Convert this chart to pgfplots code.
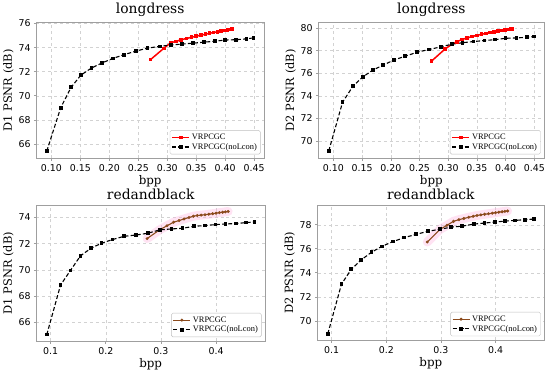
\documentclass[border=0pt]{standalone}
\usepackage{fontspec}
\setmainfont{DejaVu Serif}
\setsansfont{DejaVu Sans}
\newfontfamily\legfont{Liberation Serif}
\usepackage{pgfplots}
\usepackage{pgfplotstable}
\pgfplotsset{compat=1.18}

% longdress
\pgfplotstableread{
x      d1     d2
0.092  65.40  69.12
0.116  69.00  73.43
0.134  70.70  74.84
0.151  71.72  75.66
0.169  72.30  76.28
0.187  72.72  76.72
0.206  73.10  77.18
0.225  73.41  77.50
0.246  73.71  77.86
0.266  73.96  78.09
0.287  74.10  78.33
0.306  74.22  78.56
0.325  74.29  78.70
0.344  74.37  78.80
0.363  74.45  78.89
0.382  74.53  78.97
0.400  74.63  79.09
0.419  74.66  79.12
0.437  74.73  79.18
0.449  74.81  79.24
}\LDnolcon

\pgfplotstableread{
x      d1     d2
0.271  73.00  77.07
0.294  73.94  78.12
0.306  74.40  78.55
0.315  74.52  78.78
0.324  74.65  78.98
0.333  74.76  79.12
0.342  74.86  79.25
0.350  74.95  79.35
0.358  75.03  79.44
0.366  75.11  79.52
0.373  75.19  79.59
0.380  75.26  79.66
0.387  75.32  79.72
0.393  75.38  79.77
0.399  75.43  79.82
0.404  75.47  79.86
0.409  75.51  79.89
0.412  75.54  79.92
}\LDvrp

% redandblack
\pgfplotstableread{
x      d1     d2
0.093  65.08  68.92
0.118  68.85  73.05
0.136  69.96  74.29
0.154  71.06  75.07
0.173  71.64  75.71
0.192  72.02  76.20
0.212  72.30  76.59
0.233  72.55  76.93
0.255  72.65  77.20
0.276  72.78  77.45
0.298  73.04  77.62
0.319  73.11  77.80
0.339  73.16  77.88
0.360  73.31  78.05
0.380  73.37  78.14
0.399  73.44  78.22
0.417  73.49  78.30
0.436  73.52  78.36
0.454  73.59  78.42
0.470  73.64  78.47
}\RBnolcon

\pgfplotstableread{
x      d1     d2
0.275  72.38  76.56
0.298  73.05  77.60
0.311  73.35  77.95
0.323  73.62  78.28
0.333  73.75  78.42
0.342  73.87  78.52
0.351  73.98  78.62
0.359  74.08  78.70
0.366  74.13  78.77
0.373  74.16  78.82
0.380  74.19  78.87
0.387  74.23  78.91
0.394  74.27  78.96
0.400  74.31  79.00
0.406  74.35  79.04
0.412  74.38  79.08
0.417  74.41  79.11
0.422  74.44  79.14
}\RBvrp

\definecolor{brn}{HTML}{8B4A1C}
\definecolor{glow}{HTML}{FFB0DE}

\pgfplotsset{
  panel/.style={
    scale only axis,
    grid=major,
    grid style={dashed, gray!35, line width=0.4bp},
    axis line style={gray!75, line width=0.8bp},
    tick style={gray!75, line width=0.6bp},
    tick align=outside,
    major tick length=2.5bp,
    xtick pos=bottom, ytick pos=left,
    tick label style={font=\sffamily\fontsize{9.5}{10}\selectfont},
    /pgf/number format/assume math mode=true,
    title style={font=\fontsize{14}{14}\selectfont, yshift=-4bp},
    xlabel style={font=\fontsize{12}{12}\selectfont, yshift=3bp},
    ylabel style={font=\fontsize{11.5}{12}\selectfont, yshift=-2bp},
    xlabel={bpp},
    legend style={at={(0.985,0.03)}, anchor=south east,
      font=\legfont\fontsize{8.5}{9}\selectfont,
      draw=gray!50, rounded corners=1.5bp, row sep=-1.5bp,
      inner sep=1.5bp},
    legend cell align=left,
    legend image code/.code={
      \draw[mark repeat=2,mark phase=2,#1]
        plot coordinates {(0cm,0cm) (0.3cm,0cm) (0.6cm,0cm)};},
  },
  nolcon/.style={black, dash pattern=on 4bp off 2.2bp, line width=1.1bp, mark=square*, mark size=1.3bp, mark options={solid}},
  vrpred/.style={red, solid, line width=1.5bp, mark=square*, mark size=1.1bp},
  vrpbrn/.style={brn, solid, line width=1.1bp, mark=*, mark size=0.9bp},
  glowline/.style={glow, line width=9bp, opacity=0.35, forget plot, line cap=round},
}

\begin{document}
\begin{tikzpicture}
\path (0bp,0bp) rectangle (550bp,362bp);

% ---- panel 1
\begin{axis}[panel, at={(33bp,210bp)}, anchor=south west, width=229bp, height=137bp,
  title={longdress}, ylabel={D1 PSNR (dB)},
  xmin=0.0742, xmax=0.4669, ymin=64.79, ymax=76.10,
  xtick={0.10,0.15,...,0.451}, ytick={66,68,...,76},
  xticklabel style={/pgf/number format/.cd, fixed, fixed zerofill, precision=2}]
\addplot[vrpred] table[x=x,y=d1] {\LDvrp};
\addlegendentry{VRPCGC}
\addplot[nolcon] table[x=x,y=d1] {\LDnolcon};
\addlegendentry{VRPCGC(noLcon)}
\end{axis}

% ---- panel 2
\begin{axis}[panel, at={(317bp,210bp)}, anchor=south west, width=227bp, height=137bp,
  title={longdress}, ylabel={D2 PSNR (dB)},
  xmin=0.0742, xmax=0.4669, ymin=68.45, ymax=80.50,
  xtick={0.10,0.15,...,0.451}, ytick={70,72,...,80},
  xticklabel style={/pgf/number format/.cd, fixed, fixed zerofill, precision=2}]
\addplot[vrpred] table[x=x,y=d2] {\LDvrp};
\addlegendentry{VRPCGC}
\addplot[nolcon] table[x=x,y=d2] {\LDnolcon};
\addlegendentry{VRPCGC(noLcon)}
\end{axis}

% ---- panel 3
\begin{axis}[panel, at={(33bp,26bp)}, anchor=south west, width=230bp, height=137bp,
  title={redandblack}, ylabel={D1 PSNR (dB)},
  xmin=0.0743, xmax=0.4887, ymin=64.58, ymax=74.92,
  xtick={0.1,0.2,0.3,0.4}, ytick={66,68,...,74},
  xticklabel style={/pgf/number format/.cd, fixed, precision=1}]
\addplot[glowline] table[x=x,y=d1] {\RBvrp};
\addplot[vrpbrn] table[x=x,y=d1] {\RBvrp};
\addlegendentry{VRPCGC}
\addplot[nolcon] table[x=x,y=d1] {\RBnolcon};
\addlegendentry{VRPCGC(noLcon)}
\end{axis}

% ---- panel 4
\begin{axis}[panel, at={(316bp,27bp)}, anchor=south west, width=228bp, height=136bp,
  title={redandblack}, ylabel={D2 PSNR (dB)},
  xmin=0.0743, xmax=0.4887, ymin=68.39, ymax=79.63,
  xtick={0.1,0.2,0.3,0.4}, ytick={70,72,...,78},
  xticklabel style={/pgf/number format/.cd, fixed, precision=1}]
\addplot[glowline] table[x=x,y=d2] {\RBvrp};
\addplot[vrpbrn] table[x=x,y=d2] {\RBvrp};
\addlegendentry{VRPCGC}
\addplot[nolcon] table[x=x,y=d2] {\RBnolcon};
\addlegendentry{VRPCGC(noLcon)}
\end{axis}
\end{tikzpicture}
\end{document}
